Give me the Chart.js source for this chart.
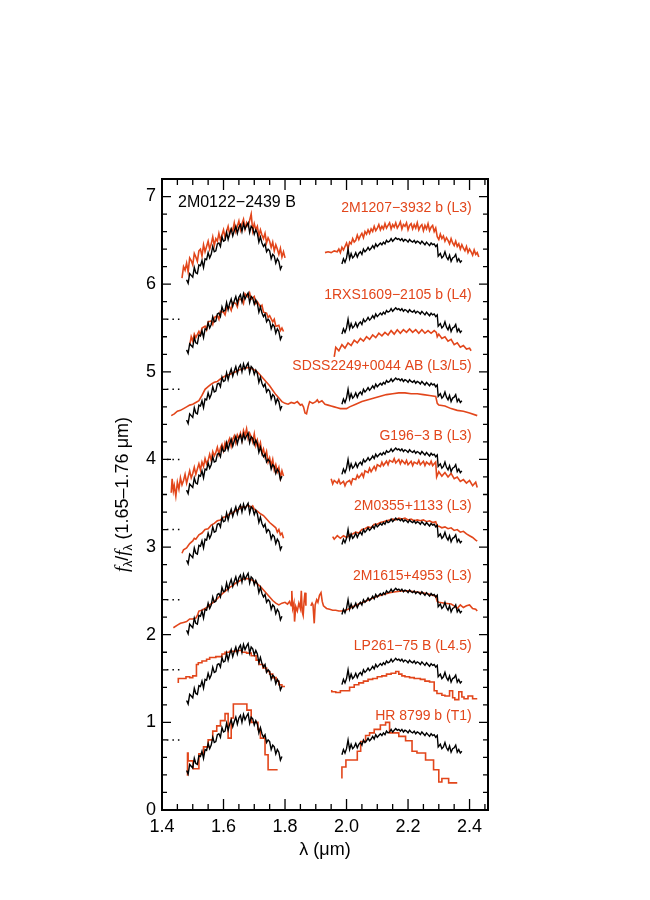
<!DOCTYPE html>
<html>
<head>
<meta charset="utf-8">
<script src="https://cdn.jsdelivr.net/npm/chart.js@4.4.0/dist/chart.umd.min.js"></script>
<style>
  html, body { margin: 0; padding: 0; background: #fff; }
  canvas { display: block; }
</style>
</head>
<body>
<canvas id="spectra" width="650" height="900"></canvas>
<script>
const FONT = '"Liberation Sans", Arial, Helvetica, sans-serif'
const RED = '#e2461b'

// axis ticks
const xTickValues = [1.4, 1.6, 1.8, 2.0, 2.2, 2.4]
const yTickValues = [0, 1, 2, 3, 4, 5, 6, 7]

// rows, bottom to top
const objectName = '2M0122−2439 B'
const rowNames = ['HR 8799 b (T1)', 'LP261−75 B (L4.5)', '2M1615+4953 (L3)', '2M0355+1133 (L3)',
    'G196−3 B (L3)', 'SDSS2249+0044 AB (L3/L5)', '1RXS1609−2105 b (L4)', '2M1207−3932 b (L3)']
const rowOffsets = [0, 0.8, 1.6, 2.4, 3.2, 4.0, 4.8, 5.6]
const dotLevels = [0.8, 1.6, 2.4, 3.2, 4.0, 4.8, 5.6]

// 2M0122-2439 B, unshifted
const blackH = [[1.480,0.45],[1.485,0.41],[1.490,0.52],[1.495,0.50],[1.500,0.48],[1.505,0.59],[1.510,0.53],[1.515,0.52],
    [1.520,0.62],[1.525,0.61],[1.530,0.67],[1.535,0.59],[1.540,0.69],[1.545,0.68],[1.550,0.76],[1.555,0.70],[1.560,0.74],
    [1.565,0.83],[1.570,0.77],[1.575,0.78],[1.580,0.86],[1.585,0.87],[1.590,0.83],[1.595,0.94],[1.600,0.89],[1.605,0.90],
    [1.610,0.99],[1.615,0.91],[1.620,0.98],[1.625,1.03],[1.630,0.95],[1.635,1.01],[1.640,1.06],[1.645,0.98],[1.650,1.05],
    [1.655,1.08],[1.660,1.00],[1.665,1.09],[1.670,1.03],[1.675,1.07],[1.680,1.10],[1.685,0.99],[1.690,1.06],[1.695,1.04],
    [1.700,0.97],[1.705,1.02],[1.710,0.98],[1.715,0.88],[1.720,0.94],[1.725,0.87],[1.730,0.83],[1.735,0.86],[1.740,0.77],
    [1.745,0.80],[1.750,0.78],[1.755,0.69],[1.760,0.74],[1.765,0.72],[1.770,0.64],[1.775,0.69],[1.780,0.66],[1.785,0.57],[1.790,0.61]]
const blackK = [[1.985,0.63],[1.990,0.69],[1.995,0.65],[2.000,0.70],[2.005,0.80],[2.010,0.69],[2.015,0.75],[2.020,0.70],
    [2.025,0.72],[2.030,0.76],[2.035,0.71],[2.040,0.75],[2.045,0.77],[2.050,0.74],[2.055,0.80],[2.060,0.77],[2.065,0.79],
    [2.070,0.82],[2.075,0.79],[2.080,0.81],[2.085,0.84],[2.090,0.81],[2.095,0.86],[2.100,0.83],[2.105,0.85],[2.110,0.87],
    [2.115,0.85],[2.120,0.88],[2.125,0.86],[2.130,0.90],[2.135,0.88],[2.140,0.89],[2.145,0.92],[2.150,0.89],[2.155,0.91],
    [2.160,0.93],[2.165,0.91],[2.170,0.92],[2.175,0.90],[2.180,0.92],[2.185,0.89],[2.190,0.91],[2.195,0.90],[2.200,0.88],
    [2.205,0.91],[2.210,0.89],[2.215,0.88],[2.220,0.90],[2.225,0.87],[2.230,0.89],[2.235,0.88],[2.240,0.86],[2.245,0.89],
    [2.250,0.87],[2.255,0.85],[2.260,0.88],[2.265,0.86],[2.270,0.84],[2.275,0.87],[2.280,0.85],[2.285,0.86],[2.290,0.83],
    [2.295,0.85],[2.298,0.72],[2.305,0.75],[2.310,0.70],[2.315,0.72],[2.320,0.77],[2.325,0.71],[2.330,0.68],[2.335,0.73],
    [2.340,0.66],[2.345,0.70],[2.350,0.71],[2.355,0.74],[2.360,0.66],[2.365,0.69],[2.370,0.65],[2.375,0.67]]

// comparison objects, as plotted (offset included)
const hr8799H = [[1.483,0.39],[1.485,0.65],[1.501,0.56],[1.520,0.47],[1.535,0.64],[1.550,0.72],[1.565,0.80],[1.578,0.90],
    [1.590,0.96],[1.605,1.02],[1.615,1.10],[1.625,0.82],[1.632,1.05],[1.676,1.21],[1.690,1.14],[1.712,1.00],[1.720,0.92],
    [1.735,0.82],[1.745,0.63],[1.766,0.46],[1.776,0.46]]
const hr8799K = [[1.985,0.36],[1.998,0.49],[2.035,0.57],[2.046,0.67],[2.062,0.78],[2.075,0.85],[2.090,0.88],[2.110,0.92],
    [2.127,0.97],[2.140,1.00],[2.170,0.88],[2.192,0.84],[2.213,0.79],[2.229,0.67],[2.257,0.65],[2.283,0.57],[2.300,0.46],
    [2.310,0.32],[2.332,0.36],[2.354,0.31],[2.360,0.31]]
const lp261H = [[1.453,1.45],[1.478,1.50],[1.490,1.52],[1.500,1.51],[1.512,1.53],[1.518,1.66],[1.530,1.68],[1.545,1.70],
    [1.555,1.72],[1.575,1.74],[1.595,1.75],[1.605,1.78],[1.620,1.80],[1.640,1.81],[1.660,1.82],[1.675,1.80],[1.690,1.79],
    [1.706,1.76],[1.716,1.71],[1.728,1.66],[1.740,1.62],[1.750,1.58],[1.760,1.55],[1.771,1.51],[1.780,1.47],[1.790,1.43],
    [1.798,1.41],[1.800,1.41]]
const lp261K = [[1.952,1.37],[1.965,1.35],[1.980,1.34],[2.010,1.36],[2.025,1.40],[2.040,1.43],[2.055,1.45],[2.070,1.47],
    [2.085,1.49],[2.100,1.50],[2.115,1.52],[2.130,1.53],[2.145,1.55],[2.160,1.56],[2.170,1.58],[2.180,1.55],[2.190,1.53],
    [2.205,1.52],[2.220,1.51],[2.240,1.50],[2.255,1.49],[2.270,1.47],[2.285,1.46],[2.294,1.36],[2.310,1.33],[2.320,1.31],
    [2.335,1.30],[2.345,1.36],[2.352,1.28],[2.365,1.26],[2.375,1.35],[2.382,1.29],[2.395,1.27],[2.410,1.30],[2.420,1.27],[2.425,1.27]]
const m1615a = [[1.437,2.08],[1.450,2.11],[1.460,2.13],[1.470,2.14],[1.480,2.15],[1.490,2.18],[1.500,2.18],[1.510,2.19],
    [1.515,2.22],[1.520,2.27],[1.530,2.28],[1.540,2.30],[1.550,2.32],[1.555,2.34],[1.560,2.35],[1.570,2.38],[1.580,2.41],
    [1.590,2.45],[1.600,2.48],[1.610,2.51],[1.620,2.54],[1.630,2.56],[1.640,2.59],[1.650,2.61],[1.660,2.63],[1.670,2.64],
    [1.680,2.64],[1.690,2.63],[1.700,2.61],[1.710,2.58],[1.720,2.55],[1.730,2.51],[1.740,2.47],[1.750,2.43],[1.760,2.39],
    [1.770,2.36],[1.780,2.34],[1.790,2.36],[1.800,2.37],[1.808,2.35],[1.815,2.38],[1.820,2.33],[1.822,2.50],[1.825,2.30],
    [1.829,2.36],[1.831,2.15],[1.835,2.32],[1.840,2.27],[1.845,2.36],[1.850,2.30],[1.853,2.50],[1.856,2.26],[1.859,2.22],
    [1.862,2.38],[1.865,2.48],[1.868,2.33]]
const m1615b = [[1.884,2.33],[1.888,2.36],[1.891,2.34],[1.895,2.13],[1.898,2.34],[1.903,2.40],[1.907,2.37],[1.912,2.45],
    [1.917,2.48],[1.921,2.38],[1.925,2.33],[1.935,2.30],[1.945,2.29],[1.955,2.28],[1.965,2.28],[1.975,2.27],[1.985,2.27],
    [1.995,2.28],[2.005,2.29],[2.020,2.32],[2.040,2.35],[2.060,2.38],[2.080,2.41],[2.100,2.44],[2.120,2.46],[2.140,2.48],
    [2.160,2.49],[2.180,2.50],[2.200,2.50],[2.220,2.49],[2.240,2.48],[2.260,2.47],[2.280,2.45],[2.290,2.44],[2.295,2.38],
    [2.300,2.37],[2.320,2.36],[2.340,2.35],[2.350,2.33],[2.360,2.30],[2.370,2.34],[2.380,2.31],[2.390,2.33],[2.400,2.34],
    [2.410,2.30],[2.420,2.29],[2.425,2.27]]
const m0355H = [[1.465,2.93],[1.470,2.97],[1.480,2.99],[1.490,3.04],[1.500,3.07],[1.505,3.10],[1.510,3.09],[1.520,3.14],
    [1.530,3.16],[1.540,3.20],[1.550,3.21],[1.560,3.25],[1.570,3.27],[1.580,3.30],[1.590,3.31],[1.600,3.34],[1.610,3.35],
    [1.620,3.38],[1.630,3.39],[1.640,3.42],[1.650,3.43],[1.660,3.46],[1.670,3.45],[1.680,3.48],[1.690,3.45],[1.695,3.47],
    [1.700,3.43],[1.710,3.41],[1.720,3.38],[1.730,3.36],[1.740,3.32],[1.750,3.28],[1.760,3.25],[1.770,3.22],[1.775,3.17],
    [1.780,3.20],[1.785,3.14],[1.790,3.16],[1.795,3.10]]
const m0355K = [[1.955,3.12],[1.960,3.09],[1.970,3.13],[1.980,3.10],[1.990,3.13],[2.000,3.11],[2.010,3.14],[2.020,3.15],
    [2.030,3.17],[2.040,3.16],[2.050,3.20],[2.060,3.21],[2.070,3.23],[2.080,3.22],[2.090,3.26],[2.100,3.26],[2.110,3.28],
    [2.120,3.29],[2.130,3.30],[2.140,3.31],[2.150,3.32],[2.160,3.31],[2.170,3.33],[2.180,3.32],[2.190,3.33],[2.200,3.31],
    [2.210,3.32],[2.220,3.30],[2.230,3.31],[2.240,3.30],[2.250,3.31],[2.260,3.29],[2.270,3.30],[2.280,3.28],[2.290,3.29],
    [2.295,3.23],[2.300,3.24],[2.310,3.22],[2.320,3.23],[2.330,3.21],[2.340,3.22],[2.350,3.19],[2.360,3.20],[2.370,3.17],
    [2.380,3.18],[2.390,3.15],[2.400,3.13],[2.410,3.11],[2.420,3.08],[2.425,3.07]]
const g196H = [[1.430,3.62],[1.433,3.78],[1.437,3.64],[1.440,3.70],[1.445,3.58],[1.450,3.74],[1.455,3.66],[1.460,3.79],
    [1.465,3.71],[1.470,3.76],[1.475,3.83],[1.480,3.73],[1.485,3.80],[1.490,3.87],[1.495,3.79],[1.500,3.84],[1.505,3.91],
    [1.510,3.83],[1.515,3.89],[1.520,3.95],[1.525,3.88],[1.530,3.97],[1.535,3.92],[1.540,4.01],[1.545,3.95],[1.550,3.99],
    [1.555,4.06],[1.560,3.99],[1.565,4.09],[1.570,4.04],[1.575,4.08],[1.580,4.14],[1.585,4.06],[1.590,4.13],[1.595,4.17],
    [1.600,4.10],[1.605,4.19],[1.610,4.14],[1.615,4.20],[1.620,4.24],[1.625,4.15],[1.630,4.23],[1.635,4.27],[1.640,4.19],
    [1.645,4.28],[1.650,4.24],[1.655,4.30],[1.660,4.22],[1.665,4.33],[1.670,4.27],[1.675,4.35],[1.680,4.24],[1.685,4.30],
    [1.690,4.26],[1.695,4.20],[1.700,4.29],[1.705,4.16],[1.710,4.22],[1.715,4.13],[1.720,4.19],[1.725,4.07],[1.730,4.12],
    [1.735,4.03],[1.740,4.09],[1.745,3.97],[1.750,4.02],[1.755,3.93],[1.760,4.00],[1.765,3.88],[1.770,3.94],[1.775,3.86],
    [1.780,3.91],[1.785,3.79],[1.790,3.87],[1.795,3.81]]
const g196K = [[1.950,3.78],[1.955,3.72],[1.960,3.76],[1.970,3.73],[1.975,3.77],[1.980,3.72],[1.990,3.75],[1.995,3.70],
    [2.000,3.74],[2.010,3.76],[2.015,3.72],[2.020,3.78],[2.030,3.77],[2.035,3.82],[2.040,3.79],[2.050,3.84],[2.055,3.80],
    [2.060,3.87],[2.070,3.85],[2.075,3.90],[2.080,3.86],[2.090,3.92],[2.095,3.88],[2.100,3.94],[2.110,3.92],[2.115,3.97],
    [2.120,3.93],[2.130,3.98],[2.135,3.94],[2.140,3.99],[2.150,3.97],[2.155,4.01],[2.160,3.96],[2.170,4.00],[2.175,3.95],
    [2.180,3.99],[2.190,3.95],[2.195,3.99],[2.200,3.94],[2.210,3.98],[2.215,3.93],[2.220,3.97],[2.230,3.95],[2.235,3.99],
    [2.240,3.94],[2.250,3.98],[2.255,3.93],[2.260,3.97],[2.270,3.94],[2.275,3.98],[2.280,3.93],[2.290,3.97],[2.293,3.80],
    [2.300,3.86],[2.310,3.81],[2.320,3.85],[2.330,3.80],[2.340,3.84],[2.350,3.78],[2.360,3.80],[2.370,3.75],[2.380,3.77],
    [2.390,3.73],[2.400,3.76],[2.410,3.70],[2.420,3.74],[2.425,3.68]]
const sdss2249 = [[1.430,4.50],[1.440,4.52],[1.450,4.55],[1.460,4.56],[1.470,4.58],[1.480,4.60],[1.490,4.62],[1.500,4.63],
    [1.510,4.65],[1.520,4.67],[1.530,4.73],[1.540,4.80],[1.550,4.83],[1.560,4.86],[1.570,4.88],[1.580,4.89],[1.590,4.92],
    [1.600,4.94],[1.610,4.96],[1.620,4.97],[1.630,4.99],[1.640,5.00],[1.650,5.02],[1.660,5.03],[1.670,5.04],[1.680,5.05],
    [1.690,5.04],[1.700,5.02],[1.710,5.00],[1.720,4.96],[1.730,4.92],[1.740,4.88],[1.750,4.84],[1.760,4.79],[1.770,4.74],
    [1.780,4.70],[1.790,4.66],[1.800,4.64],[1.810,4.63],[1.820,4.65],[1.830,4.64],[1.840,4.66],[1.850,4.62],[1.855,4.63],
    [1.860,4.60],[1.865,4.53],[1.870,4.52],[1.875,4.60],[1.880,4.66],[1.890,4.64],[1.900,4.66],[1.905,4.68],[1.910,4.65],
    [1.920,4.67],[1.930,4.63],[1.940,4.62],[1.950,4.61],[1.960,4.60],[1.970,4.59],[1.980,4.58],[1.990,4.58],[2.000,4.58],
    [2.010,4.60],[2.030,4.63],[2.050,4.66],[2.070,4.68],[2.090,4.70],[2.110,4.72],[2.130,4.74],[2.150,4.75],[2.170,4.76],
    [2.190,4.76],[2.210,4.75],[2.230,4.75],[2.250,4.74],[2.270,4.73],[2.290,4.72],[2.295,4.64],[2.300,4.62],[2.320,4.61],
    [2.340,4.58],[2.360,4.56],[2.380,4.55],[2.400,4.53],[2.425,4.50]]
const rxs1609H = [[1.490,5.30],[1.495,5.40],[1.500,5.35],[1.505,5.43],[1.510,5.39],[1.520,5.46],[1.525,5.42],[1.530,5.50],
    [1.540,5.52],[1.545,5.48],[1.550,5.57],[1.560,5.58],[1.565,5.54],[1.570,5.62],[1.580,5.64],[1.585,5.60],[1.590,5.69],
    [1.600,5.68],[1.605,5.65],[1.610,5.73],[1.620,5.74],[1.625,5.70],[1.630,5.79],[1.640,5.78],[1.645,5.74],[1.650,5.83],
    [1.660,5.82],[1.665,5.78],[1.670,5.89],[1.680,5.85],[1.685,5.90],[1.690,5.83],[1.700,5.86],[1.705,5.78],[1.710,5.80],
    [1.720,5.74],[1.725,5.76],[1.730,5.68],[1.740,5.67],[1.745,5.62],[1.750,5.64],[1.760,5.57],[1.765,5.60],[1.770,5.52],
    [1.780,5.53],[1.785,5.47],[1.790,5.50],[1.795,5.46]]
const rxs1609K = [[1.960,5.17],[1.965,5.28],[1.975,5.24],[1.985,5.31],[1.995,5.27],[2.005,5.33],[2.015,5.30],[2.025,5.36],
    [2.035,5.33],[2.045,5.38],[2.055,5.35],[2.065,5.40],[2.075,5.37],[2.085,5.42],[2.095,5.39],[2.105,5.44],[2.115,5.41],
    [2.125,5.45],[2.135,5.42],[2.145,5.47],[2.155,5.43],[2.165,5.48],[2.175,5.44],[2.185,5.48],[2.195,5.45],[2.205,5.49],
    [2.215,5.45],[2.225,5.48],[2.235,5.44],[2.245,5.48],[2.255,5.44],[2.265,5.47],[2.275,5.44],[2.285,5.47],[2.292,5.45],
    [2.295,5.40],[2.300,5.43],[2.310,5.38],[2.320,5.40],[2.330,5.35],[2.340,5.37],[2.350,5.31],[2.360,5.33],[2.370,5.28],
    [2.380,5.30],[2.390,5.26],[2.400,5.27],[2.405,5.24]]
const m1207H = [[1.465,6.07],[1.470,6.20],[1.475,6.16],[1.480,6.24],[1.485,6.14],[1.490,6.30],[1.495,6.27],[1.500,6.22],
    [1.505,6.35],[1.510,6.31],[1.515,6.26],[1.520,6.38],[1.525,6.40],[1.530,6.32],[1.535,6.45],[1.540,6.37],[1.545,6.43],
    [1.550,6.49],[1.555,6.40],[1.560,6.46],[1.565,6.54],[1.570,6.44],[1.575,6.52],[1.580,6.49],[1.585,6.58],[1.590,6.50],
    [1.595,6.56],[1.600,6.62],[1.605,6.53],[1.610,6.60],[1.615,6.66],[1.620,6.57],[1.625,6.63],[1.630,6.61],[1.635,6.70],
    [1.640,6.60],[1.645,6.66],[1.650,6.72],[1.655,6.62],[1.660,6.69],[1.665,6.74],[1.670,6.63],[1.675,6.70],[1.680,6.66],
    [1.685,6.73],[1.690,6.80],[1.695,6.61],[1.700,6.69],[1.705,6.62],[1.710,6.66],[1.715,6.55],[1.720,6.62],[1.725,6.56],
    [1.730,6.52],[1.735,6.58],[1.740,6.47],[1.745,6.53],[1.750,6.49],[1.755,6.42],[1.760,6.48],[1.765,6.38],[1.770,6.45],
    [1.775,6.40],[1.780,6.34],[1.785,6.41],[1.790,6.31],[1.795,6.37],[1.800,6.30]]
const m1207K = [[1.930,6.36],[1.940,6.37],[1.950,6.36],[1.960,6.38],[1.970,6.37],[1.975,6.40],[1.980,6.36],[1.985,6.42],
    [1.990,6.39],[1.995,6.43],[2.000,6.47],[2.005,6.41],[2.010,6.48],[2.015,6.46],[2.020,6.52],[2.025,6.48],[2.030,6.50],
    [2.035,6.56],[2.040,6.51],[2.045,6.55],[2.050,6.58],[2.055,6.53],[2.060,6.60],[2.065,6.57],[2.070,6.62],[2.075,6.58],
    [2.080,6.63],[2.085,6.60],[2.090,6.66],[2.095,6.61],[2.100,6.64],[2.105,6.68],[2.110,6.62],[2.115,6.66],[2.120,6.63],
    [2.125,6.69],[2.130,6.64],[2.135,6.67],[2.140,6.70],[2.145,6.63],[2.150,6.68],[2.155,6.65],[2.160,6.70],[2.165,6.64],
    [2.170,6.67],[2.175,6.71],[2.180,6.63],[2.185,6.68],[2.190,6.66],[2.195,6.70],[2.200,6.62],[2.205,6.67],[2.210,6.69],
    [2.215,6.63],[2.220,6.68],[2.225,6.64],[2.230,6.70],[2.235,6.62],[2.240,6.66],[2.245,6.68],[2.250,6.61],[2.255,6.67],
    [2.260,6.63],[2.265,6.69],[2.270,6.61],[2.275,6.65],[2.280,6.67],[2.285,6.60],[2.290,6.64],[2.295,6.54],[2.300,6.51],
    [2.305,6.57],[2.310,6.52],[2.315,6.55],[2.320,6.49],[2.325,6.53],[2.330,6.50],[2.335,6.46],[2.340,6.52],[2.345,6.47],
    [2.350,6.44],[2.355,6.49],[2.360,6.43],[2.365,6.46],[2.370,6.40],[2.375,6.45],[2.380,6.41],[2.385,6.38],[2.390,6.43],
    [2.395,6.36],[2.400,6.40],[2.405,6.37],[2.410,6.33],[2.415,6.39],[2.420,6.34],[2.425,6.36],[2.430,6.31]]

// one entry per row, same order as rowNames
const comparisons = [[hr8799H, hr8799K], [lp261H, lp261K], [m1615a, m1615b], [m0355H, m0355K],
    [g196H, g196K], [sdss2249], [rxs1609H, rxs1609K], [m1207H, m1207K]]
const steppedRows = [true, true, false, false, false, false, false, false]

const toPoints = (arr, off = 0) => arr.map(([x, y]) => ({x: x, y: y + off}))

const datasets = []

rowOffsets.forEach((off, i) => {
    datasets.push({
        data: toPoints(blackH, off).concat([{x: 1.9, y: null}], toPoints(blackK, off)),
        borderColor: '#000',
        borderWidth: 1.4,
        order: 0,
    })
    comparisons[i].forEach(seg => {
        datasets.push({
            data: toPoints(seg),
            borderColor: RED,
            borderWidth: 1.6,
            stepped: steppedRows[i] ? 'after' : false,
            order: 1,
        })
    })
})

dotLevels.forEach(level => {
    datasets.push({
        data: [{x: 1.416, y: level}, {x: 1.458, y: level}],
        borderColor: '#000',
        borderWidth: 1.5,
        borderDash: [1.5, 4],
        order: 0,
    })
})

// frame with inward ticks, labels, axis titles
const decorations = {
    id: 'decorations',
    afterDraw(chart) {
        const {ctx, chartArea: a, scales: {x, y}} = chart
        ctx.save()
        ctx.strokeStyle = '#000'
        ctx.lineWidth = 1.3
        ctx.beginPath()
        for (let i = 0; i <= 21; i++) {
            const v = 1.4 + i * 0.05
            const px = x.getPixelForValue(v)
            const len = (i % 4 === 0) ? 11 : 6
            ctx.moveTo(px, a.bottom); ctx.lineTo(px, a.bottom - len)
            ctx.moveTo(px, a.top); ctx.lineTo(px, a.top + len)
        }
        for (let i = 0; i <= 36; i++) {
            const py = y.getPixelForValue(i * 0.2)
            const len = (i % 5 === 0) ? 9 : 5
            ctx.moveTo(a.left, py); ctx.lineTo(a.left + len, py)
            ctx.moveTo(a.right, py); ctx.lineTo(a.right - len, py)
        }
        ctx.stroke()

        ctx.lineWidth = 2
        ctx.strokeRect(a.left, a.top, a.right - a.left, a.bottom - a.top)

        // object name
        ctx.fillStyle = '#000'
        ctx.font = '16px ' + FONT
        ctx.textAlign = 'left'
        ctx.textBaseline = 'middle'
        ctx.fillText(objectName, x.getPixelForValue(1.452), y.getPixelForValue(6.93))

        // comparison names
        ctx.fillStyle = RED
        ctx.font = '14px ' + FONT
        ctx.textAlign = 'right'
        rowNames.forEach((name, i) => {
            const ly = i === rowNames.length - 1 ? 6.87 : rowOffsets[i] + 1.07
            ctx.fillText(name, x.getPixelForValue(2.407), y.getPixelForValue(ly))
        })

        // x title
        ctx.fillStyle = '#000'
        ctx.font = '18px ' + FONT
        ctx.textAlign = 'center'
        ctx.fillText('λ (μm)', (a.left + a.right) / 2, 850)

        // y title, rotated
        const parts = [
            {t: 'f', f: 'italic 19px "Liberation Serif", serif', dy: 0},
            {t: 'λ', f: '12px ' + FONT, dy: 4},
            {t: '/', f: '18px ' + FONT, dy: 0},
            {t: 'f', f: 'italic 19px "Liberation Serif", serif', dy: 0},
            {t: 'λ', f: '12px ' + FONT, dy: 4},
            {t: ' (1.65–1.76 μm)', f: '18px ' + FONT, dy: 0},
        ]
        let total = 0
        parts.forEach(p => { ctx.font = p.f; p.w = ctx.measureText(p.t).width; total += p.w })
        ctx.translate(122, (a.top + a.bottom) / 2)
        ctx.rotate(-Math.PI / 2)
        ctx.textAlign = 'left'
        ctx.textBaseline = 'alphabetic'
        let cx = -total / 2
        parts.forEach(p => {
            ctx.font = p.f
            ctx.fillText(p.t, cx, 6 + p.dy)
            cx += p.w
        })
        ctx.restore()
    }
}

new Chart(document.getElementById('spectra').getContext('2d'), {
    type: 'line',
    data: {datasets: datasets},
    options: {
        responsive: false,
        animation: false,
        layout: {padding: {left: 0, right: 162, top: 179, bottom: 0}},
        elements: {point: {radius: 0}, line: {tension: 0}},
        plugins: {legend: {display: false}, tooltip: {enabled: false}},
        scales: {
            x: {
                type: 'linear',
                min: 1.4,
                max: 2.46,
                grid: {display: false, drawTicks: false},
                border: {display: false},
                ticks: {
                    color: '#000',
                    font: {family: FONT, size: 18},
                    padding: 6,
                    maxRotation: 0,
                    autoSkip: false,
                    callback: v => v.toFixed(1),
                },
                afterBuildTicks: s => { s.ticks = xTickValues.map(v => ({value: v})) },
                afterFit: s => { s.height = 90 },
            },
            y: {
                type: 'linear',
                min: 0,
                max: 7.2,
                grid: {display: false, drawTicks: false},
                border: {display: false},
                ticks: {
                    color: '#000',
                    font: {family: FONT, size: 18},
                    padding: 6,
                    autoSkip: false,
                    callback: v => String(v),
                },
                afterBuildTicks: s => { s.ticks = yTickValues.map(v => ({value: v})) },
                afterFit: s => { s.width = 162 },
            },
        },
    },
    plugins: [decorations],
})
</script>
</body>
</html>
